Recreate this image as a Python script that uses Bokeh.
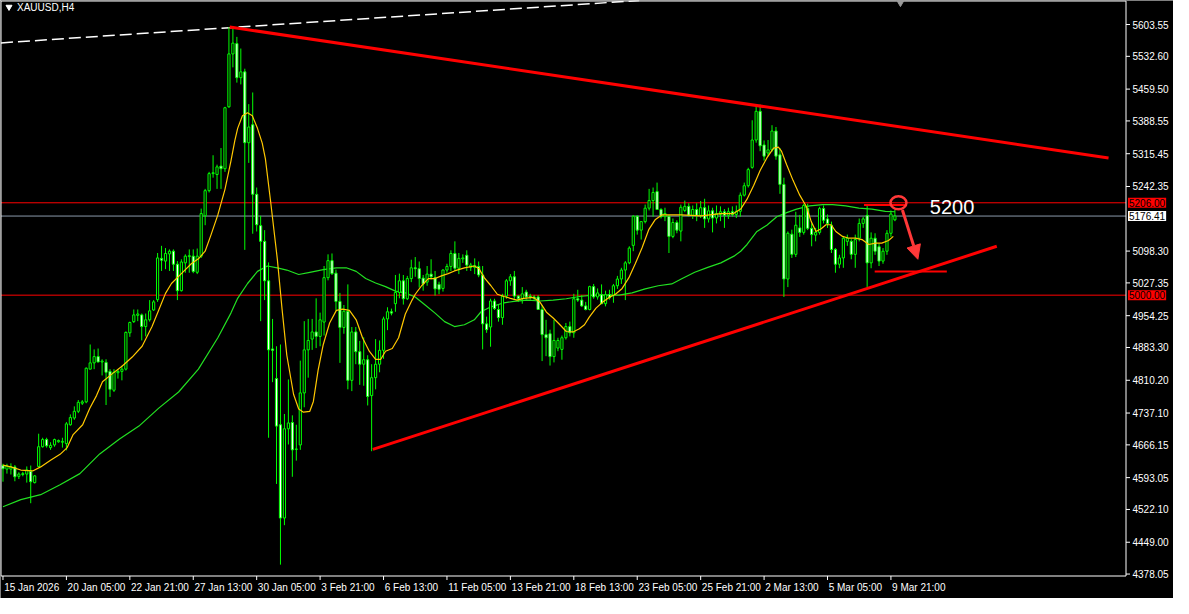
from bokeh.plotting import figure
from bokeh.models import Range1d, Span, Label, Arrow, NormalHead, ColumnDataSource
from bokeh.core.properties import value
from bokeh.embed import file_html
from bokeh.resources import INLINE

# ---------------- data ----------------
opens = [4620,4612,4612,4617,4596,4600,4601,4607,4582,4618,
         4662,4678,4660,4666,4673,4672,4669,4711,4726,4741,
         4759,4762,4835,4849,4863,4851,4850,4830,4788,4827,
         4830,4835,4916,4941,4955,4956,4930,4945,4967,4990,
         5082,5076,5092,5098,5069,5010,5072,5086,5087,5051,
         5087,5177,5233,5271,5269,5288,5282,5420,5538,5561,
         5485,5498,5340,5380,5225,5155,5120,5032,4880,4814,
         4711,4503,4702,4716,4656,4666,4782,4878,4902,4918,
         4908,4940,5039,5077,5049,4986,4928,4964,4810,4918,
         4874,4846,4856,4776,4816,4846,4877,4947,4963,4981,
         5006,5032,4992,5037,5061,5059,5038,5029,5047,5039,
         5024,5015,5056,5064,5093,5060,5081,5089,5062,5062,
         5064,5045,4936,4929,4987,4968,4950,4998,5032,5041,
         4998,4992,5007,4998,4996,4996,4968,4912,4914,4863,
         4882,4879,4905,4930,4916,4992,4989,4976,4968,5019,
         4996,5001,4981,5001,4999,5021,5036,5056,5072,5111,
         5176,5145,5164,5194,5211,5231,5191,5175,5176,5131,
         5162,5143,5189,5198,5178,5191,5178,5195,5170,5188,
         5172,5180,5186,5178,5186,5180,5187,5223,5244,5285,
         5346,5410,5335,5317,5324,5366,5313,5247,5036,5136,
         5091,5150,5140,5193,5149,5134,5140,5193,5170,5156,
         5102,5069,5083,5120,5120,5091,5127,5160,5178,5072,
         5127,5108,5076,5098,5138,5168]
highs = [4624,4624,4625,4621,4605,4606,4618,4620,4599,4691,
         4682,4682,4672,4680,4678,4682,4717,4734,4752,4766,
         4766,4839,4890,4879,4881,4857,4857,4835,4835,4835,
         4843,4919,4941,4968,4968,4959,4959,4989,4989,5094,
         5110,5105,5102,5102,5076,5080,5091,5102,5102,5104,
         5193,5237,5275,5312,5291,5328,5420,5598,5595,5576,
         5550,5505,5426,5452,5240,5177,5145,5073,4947,4886,
         4890,4735,4812,4732,4711,4854,4942,4947,4947,4993,
         4961,5065,5091,5093,5057,5005,4978,5024,4929,4929,
         4898,4906,4866,4846,4902,4899,4952,4973,4970,5045,
         5048,5045,5043,5079,5085,5075,5045,5065,5080,5054,
         5030,5058,5070,5100,5120,5094,5091,5100,5072,5082,
         5075,5065,4952,4992,4992,4978,5003,5036,5047,5054,
         5000,5018,5012,5003,5000,5000,4978,4945,4923,4945,
         4905,4910,4938,4941,5003,5012,5000,4985,5021,5025,
         5015,5024,5010,5012,5025,5043,5061,5076,5109,5178,
         5178,5165,5202,5237,5240,5251,5194,5195,5178,5171,
         5167,5202,5211,5205,5200,5205,5210,5215,5200,5195,
         5200,5198,5192,5195,5198,5200,5229,5251,5284,5390,
         5423,5425,5345,5346,5379,5375,5328,5262,5142,5146,
         5186,5179,5204,5204,5160,5150,5197,5200,5180,5164,
         5105,5090,5131,5135,5125,5135,5171,5175,5201,5140,
         5138,5115,5105,5145,5189,5190]
lows = [4584,4602,4600,4585,4590,4596,4582,4536,4580,4617,
        4660,4660,4655,4662,4671,4660,4654,4709,4722,4737,
        4755,4759,4835,4835,4850,4821,4755,4773,4784,4814,
        4810,4832,4907,4938,4942,4899,4908,4941,4965,4985,
        5054,5058,5054,5054,4989,5008,5050,5050,5049,5047,
        5083,5156,5229,5262,5237,5237,5275,5418,5508,5474,
        5470,5101,5295,5137,5142,4942,4989,4682,4806,4579,
        4399,4487,4667,4595,4631,4655,4750,4816,4878,4882,
        4886,4910,5033,5045,4966,4849,4914,4790,4786,4846,
        4800,4798,4754,4652,4790,4828,4858,4922,4955,4963,
        4993,4979,4989,5029,5041,5017,5010,5021,5035,4999,
        5002,5008,5050,5054,5054,5047,5072,5054,5054,5047,
        5040,4879,4916,4885,4967,4941,4934,4992,5021,4992,
        4985,4981,4990,4990,4988,4967,4853,4864,4843,4850,
        4875,4856,4901,4908,4905,4985,4974,4966,4966,4992,
        4990,4980,4975,4990,4983,5014,5025,4989,5069,5098,
        5135,5124,5160,5189,5175,5191,5171,5165,5094,5127,
        5138,5120,5185,5175,5170,5165,5172,5150,5162,5140,
        5160,5165,5150,5170,5175,5172,5175,5220,5240,5282,
        5340,5321,5300,5310,5320,5302,5226,4996,5018,5083,
        5085,5130,5135,5145,5109,5120,5135,5160,5150,5094,
        5050,5060,5061,5110,5080,5061,5120,5150,5018,5060,
        5090,5065,5070,5090,5130,5165]
closes = [4613,4619,4617,4595,4601,4602,4610,4584,4597,4662,
          4678,4664,4665,4678,4676,4674,4713,4727,4741,4761,
          4762,4837,4849,4863,4851,4853,4828,4790,4828,4830,
          4835,4917,4939,4956,4958,4930,4945,4965,4985,5083,
          5078,5093,5098,5069,5010,5074,5087,5088,5053,5087,
          5182,5233,5271,5273,5286,5282,5418,5538,5562,5485,
          5498,5340,5375,5225,5157,5120,5032,4878,4877,4708,
          4503,4702,4715,4655,4657,4782,4878,4899,4918,4908,
          4945,5039,5077,5048,4986,4928,4964,4810,4918,4874,
          4846,4856,4774,4816,4846,4877,4947,4963,4960,5006,
          5032,4992,5037,5061,5059,5037,5025,5047,5041,5014,
          5013,5056,5064,5093,5060,5082,5083,5067,5067,5066,
          5045,4936,4923,4987,4970,4950,4998,5032,5041,4998,
          4992,5003,4996,4996,4993,4968,4912,4905,4863,4899,
          4899,4905,4930,4916,4992,4989,4976,4968,5019,4996,
          5005,4981,5001,4994,5021,5036,5056,5072,5105,5176,
          5145,5164,5194,5211,5229,5191,5175,5182,5131,5162,
          5145,5196,5198,5178,5191,5178,5195,5170,5188,5172,
          5182,5186,5178,5186,5180,5187,5223,5244,5280,5346,
          5410,5333,5310,5324,5366,5310,5247,5036,5138,5091,
          5156,5140,5200,5149,5135,5140,5193,5167,5160,5102,
          5069,5083,5127,5127,5091,5124,5160,5170,5072,5127,
          5098,5076,5098,5138,5181,5176.41]

# fast moving average (yellow), read as (bar, price)
ma_fast_bar = [0,2,4.5,7.5,9.5,12,14.4,16.2,17.7,20.1,
               21.9,23.6,25.1,27.6,30.1,32.6,35.1,37.6,39.3,41,
               42.5,45,47.5,49.3,51,52.5,54.2,56,57.5,58.5,
               59.2,60.4,61.7,62.9,64.2,65.4,66.2,67.5,69.2,70.4,
               71.6,73.3,74.6,75.8,77.4,78.3,79.5,80.8,82.4,84.1,
               85.7,87.4,89.1,90.7,92.4,94,95.3,96.5,98.2,99.8,
               101.5,103.2,104,105.6,107.3,109,110.6,112.3,113.9,116.4,
               118.9,120.1,121.4,123.1,124.7,126.4,128,129.7,131.3,133.8,
               135.5,137.1,138.8,140.5,142.1,143.8,145.4,146.7,147.9,149.6,
               151.2,152.9,154.5,156.2,157.9,159.5,161.2,162.9,164.5,166.2,
               168.7,171.1,176.1,181.1,184.3,186.1,187.7,189.4,191,192.7,
               194.4,195.6,196.4,197.7,199.3,201,202.7,203.9,205.1,206.4,
               207.6,208.9,210.1,211.8,213.4,215.1,216.7,218.4,220.1,221.7,
               223.4,224.6]
ma_fast_val = [4621,4617,4610,4608,4617,4632,4645,4660,4689,4711,
               4748,4776,4807,4825,4842,4862,4886,4930,4967,5004,
               5026,5048,5070,5081,5098,5135,5179,5236,5299,5345,
               5372,5400,5407,5400,5372,5339,5304,5210,5081,4969,
               4866,4779,4746,4739,4741,4763,4833,4890,4938,4966,
               4969,4966,4945,4905,4875,4857,4857,4875,4881,4905,
               4958,4989,5002,5021,5037,5037,5043,5048,5054,5061,
               5065,5059,5039,5021,5002,4997,4993,4989,4993,4995,
               4984,4962,4949,4934,4919,4918,4925,4934,4951,4971,
               4984,4995,5002,5015,5039,5070,5105,5146,5168,5179,
               5179,5179,5177,5182,5182,5192,5214,5245,5278,5306,
               5328,5330,5321,5291,5256,5223,5197,5164,5142,5148,
               5157,5157,5142,5131,5127,5127,5124,5113,5116,5116,
               5122,5131]

# slow moving average (green), read as (bar, price)
ma_slow_bar = [0,4.5,9.5,14.4,19.4,24.4,29.4,34.3,39.3,44.3,
               49.3,54.2,57.5,59.2,61.7,64.2,66.7,69.2,71.6,74.6,
               77.4,80.8,84.1,86.6,89.1,91.5,94,96.5,99,101.5,
               104,106.5,109,111.4,113.9,116.4,118.9,120.6,123.1,126.4,
               128.9,132.2,135.5,138.8,142.1,145.4,148.8,152.1,155.4,158.7,
               162,165.3,168.7,171.1,174.5,177.8,181.1,184.4,186.1,187.7,
               190.2,192.7,195.2,197.7,200.2,203.5,206.8,209.3,212.6,215.9,
               219.2,222.6,225]
ma_slow_val = [4528,4544,4555,4577,4602,4646,4679,4708,4748,4784,
               4835,4905,4960,4993,5026,5053,5065,5061,5056,5046,
               5051,5057,5061,5061,5053,5037,5027,5019,5009,5005,
               4996,4978,4960,4941,4930,4934,4945,4963,4974,4983,
               4986,4989,4987,4989,4992,4997,5000,5000,5000,5005,
               5014,5021,5025,5036,5051,5062,5072,5087,5098,5113,
               5142,5156,5175,5184,5192,5199,5202,5202,5199,5194,
               5192,5187,5186]

# drawn objects: anchors as (bar, price)
res_trend_bar = [57.2, 278.9]
res_trend_val = [5598, 5306]
sup_trend_bar = [93.3, 250.7]
sup_trend_val = [4656, 5109]
dash_line_bar = [-0.5, 160.5]
dash_line_val = [5562.6, 5657.2]
level_red = [5206.00, 5000.00]
last_price = 5176.41
short_level_bar = [219.9, 238.1]
short_level_val = [5053, 5053]
mark_level_bar = [217.2, 227.9]
mark_level_val = [5201, 5201]
circle_bar = [225.9]
circle_val = [5206]
arrow_from = (226.9, 5190)
arrow_to = (230.8, 5080)
note_text = "5200"
note_pos = (233.8, 5197)
shift_mark_bar = [226.4]
title_text = "XAUUSD,H4"

xtick_labels = ["15 Jan 2026", "20 Jan 05:00", "22 Jan 21:00", "27 Jan 13:00",
                "30 Jan 05:00", "3 Feb 21:00", "6 Feb 13:00", "11 Feb 05:00",
                "13 Feb 21:00", "18 Feb 13:00", "23 Feb 05:00", "25 Feb 21:00",
                "2 Mar 13:00", "5 Mar 05:00", "9 Mar 21:00"]
bars_per_label = 16
ytick_values = [4378.05, 4449.00, 4522.10, 4593.05, 4666.15, 4737.10, 4810.20,
                4883.30, 4954.25, 5027.35, 5098.30, 5242.35, 5315.45, 5388.55,
                5459.50, 5532.60, 5603.55]

# ---------------- layout constants ----------------
W, H = 1173, 598
PLOT_W_PX, PLOT_H_PX = 1125, 575          # chart window inside the canvas
XL, XB = -0.5, 283.3                      # bar range of the chart window
YB, YT = 4373.7, 5656.0                   # price range of the chart window
PXB = PLOT_W_PX / (XB - XL)               # px per bar
PPX = (YT - YB) / PLOT_H_PX               # price per px
x_start = XL - 0.5 / PXB
x_end = x_start + W / PXB
y_top = YT + 0.5 * PPX
y_bot = y_top - H * PPX

FONT = "Liberation Sans"
GREEN = "#00ff00"
RED = "#ff0000"

p = figure(width=W, height=H, output_backend="svg", toolbar_location=None,
           x_range=Range1d(x_start, x_end), y_range=Range1d(y_bot, y_top),
           x_axis_location=None, y_axis_location=None,
           background_fill_color="black", border_fill_color="black",
           min_border_left=0, min_border_top=0, min_border_right=0, min_border_bottom=0)
p.xgrid.visible = False
p.ygrid.visible = False
p.outline_line_color = None

# horizontal levels (full window width)
for lv in level_red:
    p.segment(x0=[XL], y0=[lv], x1=[XB], y1=[lv], line_color=RED, line_width=1)
p.segment(x0=[XL], y0=[last_price], x1=[XB], y1=[last_price], line_color="#8a9aaa", line_width=1)

# dashed white line
p.line(dash_line_bar, dash_line_val, line_color="white", line_width=1.5, line_dash="12 5")

# slow MA
p.line(ma_slow_bar, ma_slow_val, line_color="#22e022", line_width=1.2)

# candles
bars = list(range(len(opens)))
src = ColumnDataSource(dict(
    x=bars, o=opens, h=highs, l=lows, c=closes,
    top=[max(o, c) for o, c in zip(opens, closes)],
    bot=[min(o, c) for o, c in zip(opens, closes)],
    fill=["black" if c >= o else "white" for o, c in zip(opens, closes)],
))
p.segment(x0="x", y0="l", x1="x", y1="h", source=src, line_color=GREEN, line_width=1)
p.vbar(x="x", top="top", bottom="bot", width=0.55, fill_color="fill",
       line_color=GREEN, line_width=1, source=src)

# fast MA
p.line(ma_fast_bar, ma_fast_val, line_color="#ffc800", line_width=1.2)

# trend lines & drawn levels
p.line(res_trend_bar, res_trend_val, line_color=RED, line_width=3)
p.line(sup_trend_bar, sup_trend_val, line_color=RED, line_width=3)
p.line(short_level_bar, short_level_val, line_color=RED, line_width=2)
p.line(mark_level_bar, mark_level_val, line_color=RED, line_width=2)

# circle + arrow + note
p.ellipse(x=circle_bar, y=circle_val, width=16, height=13, width_units="screen",
          height_units="screen", fill_alpha=0, line_color="#ff3838", line_width=2.5)
p.add_layout(Arrow(end=NormalHead(size=14, fill_color="#ff3838", line_color="#ff3838"),
                   x_start=arrow_from[0], y_start=arrow_from[1],
                   x_end=arrow_to[0], y_end=arrow_to[1],
                   line_color="#ff3838", line_width=3))
p.add_layout(Label(x=note_pos[0], y=note_pos[1], text=note_text, text_color="white",
                   text_font=FONT, text_font_size="20px", text_baseline="middle"))

# ---- chart window frame ----
p.line([XL, XB, XB, XL, XL], [YB, YB, YT, YT, YB], line_color="white", line_width=1)

# right price scale
tick_len = 4 / PXB
p.segment(x0=[XB] * len(ytick_values), y0=ytick_values,
          x1=[XB + tick_len] * len(ytick_values), y1=ytick_values,
          line_color="white", line_width=1)
p.text(x=[XB + 6.5 / PXB] * len(ytick_values), y=ytick_values,
       text=[f"{v:.2f}" for v in ytick_values], text_color="white",
       text_font=value(FONT), text_font_size="10px",
       text_baseline="middle", text_align="left")

# bottom time scale
xtick_pos = [i * bars_per_label for i in range(len(xtick_labels))]
p.segment(x0=xtick_pos, y0=[YB] * len(xtick_pos), x1=xtick_pos,
          y1=[YB - 4 * PPX] * len(xtick_pos), line_color="white", line_width=1)
p.text(x=[xp + 0.3 for xp in xtick_pos], y=[YB - 6 * PPX] * len(xtick_pos),
       text=xtick_labels, text_color="white", text_font=value(FONT),
       text_font_size="10px", text_baseline="top", text_align="left")

# price boxes on the right scale
for lv in level_red:
    p.add_layout(Label(x=XB, y=lv, x_offset=2, text=f"{lv:.2f}", text_color="black",
                       text_font=FONT, text_font_size="10px", text_baseline="middle",
                       background_fill_color=RED, padding=1))
p.add_layout(Label(x=XB, y=last_price, x_offset=2, text=f"{last_price:.2f}",
                   text_color="black", text_font=FONT, text_font_size="10px",
                   text_baseline="middle", background_fill_color="white", padding=1))

# title and markers
p.scatter(x=[XL + 2 / PXB * 4], y=[YT - 6 * PPX], marker="inverted_triangle", size=6,
          fill_color="white", line_color="white")
p.text(x=[XL + 16 / PXB], y=[YT - 6 * PPX], text=[title_text], text_color="white",
       text_font=value(FONT), text_font_size="10px", text_baseline="middle",
       text_align="left")
p.scatter(x=shift_mark_bar, y=[YT - 1 * PPX], marker="inverted_triangle", size=8,
          fill_color="#9a9a9a", line_color="#9a9a9a")

open("out.html", "w").write(file_html(p, INLINE))
